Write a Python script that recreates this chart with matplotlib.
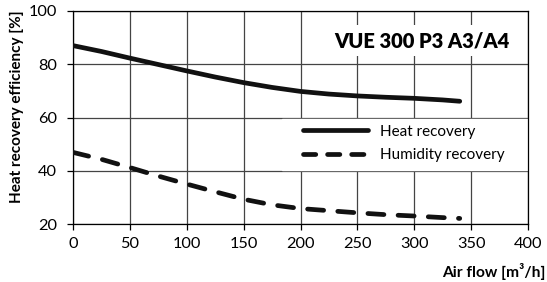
import matplotlib
matplotlib.use("Agg")
import matplotlib.pyplot as plt
from matplotlib.lines import Line2D

# Data
air_flow = [0, 25, 50, 75, 100, 125, 150, 175, 200, 225, 250, 275, 300, 325, 340]
heat_recovery = [87.0, 84.8, 82.3, 79.9, 77.5, 75.2, 73.1, 71.3, 69.8, 68.8, 68.1, 67.6, 67.2, 66.6, 66.1]
humidity_recovery = [46.9, 44.3, 41.2, 38.0, 35.0, 32.1, 29.3, 27.2, 25.8, 25.0, 24.2, 23.5, 23.0, 22.4, 22.1]
x_ticks = [0, 50, 100, 150, 200, 250, 300, 350, 400]
y_ticks = [20, 40, 60, 80, 100]
series_labels = ["Heat recovery", "Humidity recovery"]
model_title = "VUE 300 P3 A3/A4"

plt.rcParams['font.family'] = ['Lato', 'DejaVu Sans']

fig = plt.figure(figsize=(5.47, 2.82), dpi=100)
ax = fig.add_axes([73/547, 1-224/282, 455/547, 213/282])

ax.set_xlim(0, 400)
ax.set_ylim(20, 100)
ax.set_xticks(x_ticks)
ax.set_yticks(y_ticks)
ax.set_axisbelow(True)
ax.grid(True, color='#444444', linewidth=0.9)
for s in ax.spines.values():
    s.set_color('black')
    s.set_linewidth(0.9)
ax.tick_params(axis='both', direction='out', length=4.5, width=0.9, labelsize=11.8, colors='black')
ax.tick_params(axis='y', pad=7)
ax.tick_params(axis='x', pad=5)

# white background for the legend area
ax.axhspan(40.4, 59.6, xmin=0.46, xmax=1.0, color='white', zorder=1)

l1, = ax.plot(air_flow, heat_recovery, color='#111111', linewidth=3.4,
              solid_capstyle='round', zorder=3, label=series_labels[0])
l2, = ax.plot(air_flow, humidity_recovery, color='#111111', linewidth=3.4,
              dashes=(3.4, 3.0), dash_capstyle='round', zorder=3, label=series_labels[1])

h1 = Line2D([], [], color='#111111', linewidth=3.4, solid_capstyle='round')
h2 = Line2D([], [], color='#111111', linewidth=3.4, dashes=(2.6, 2.5), dash_capstyle='round')

leg = ax.legend(handles=[h1, h2], labels=series_labels, loc='center left', bbox_to_anchor=(202, 50.3),
                bbox_transform=ax.transData, frameon=False, fontsize=11,
                handlelength=4.3, handletextpad=0.75, labelspacing=0.62,
                borderpad=0, borderaxespad=0)
leg.set_zorder(4)

ax.text(384, 88.9, model_title, ha='right', va='center', fontsize=14.5, fontweight='heavy',
        bbox=dict(facecolor='white', edgecolor='none', pad=4), zorder=4)

fig.text(17/547, 1-107/282, "Heat recovery efficiency [%]", rotation=90, ha='center', va='center',
         fontsize=11, fontweight='bold')
fig.text(545/547, 1-271/282, "Air flow [m\u00b3/h]", ha='right', va='center',
         fontsize=11.2, fontweight='bold')

fig.savefig("out.png", dpi=100)
